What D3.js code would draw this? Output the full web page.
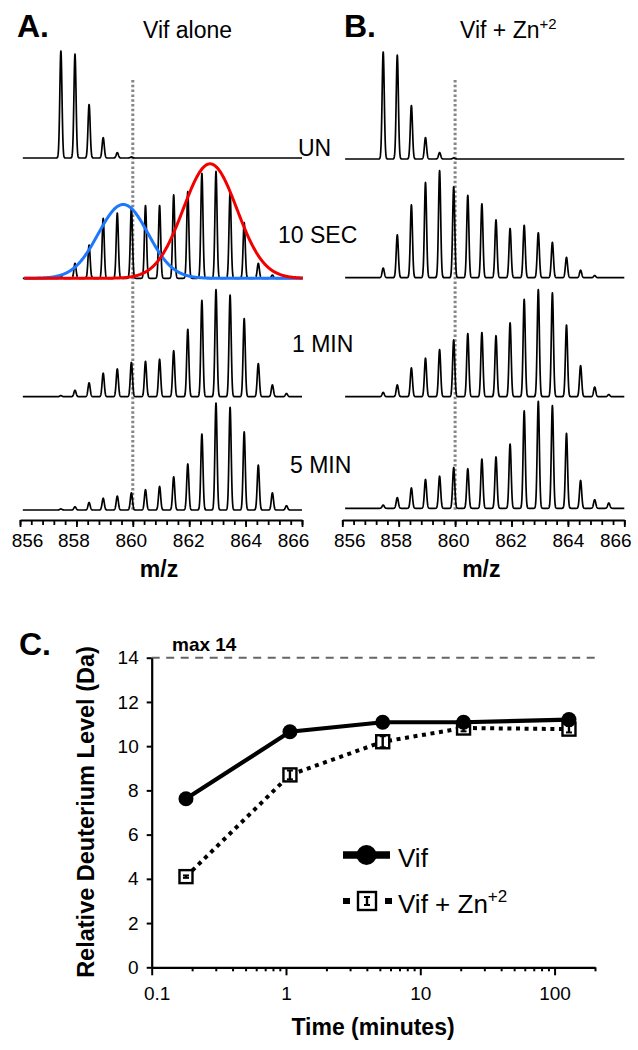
<!DOCTYPE html>
<html><head><meta charset="utf-8">
<script src="https://cdn.jsdelivr.net/npm/d3@7"></script>
<style>
body{margin:0;background:#fff}
svg{display:block}
text{font-family:"Liberation Sans",Arial,Helvetica,sans-serif;fill:#000}
</style>
</head><body>
<svg id="chart" width="638" height="1050"></svg>
<script>
// ---------- DATA ----------
// isotope peak positions (m/z) and relative intensities (% of base peak)
const mzPeaks = [857.45,857.95,858.45,858.95,859.45,859.95,860.45,860.95,861.45,861.95,862.45,862.95,863.45,863.95,864.45,864.95,865.45,865.95];
const vifUN    = [100,97,50,19,5,1,0,0,0,0,0,0,0,0,0,0,0,0];
const vif10s   = [2,14,31,56,61,66,68,68,78,81,98,100,80,52,14,3,0,0];
const vif1m    = [1,6,13,22,26,32,33,35,43,63,90,100,95,73,31,11,3,0];
const vif5m    = [1,3,7,11,13,16,19,22,31,43,71,100,96,73,42,16,4,0];
const znUN     = [100,97,50,20,6,1,0,0,0,0,0,0,0,0,0,0,0,0];
const zn10s    = [9,40,68,89,100,85,77,69,54,46,49,42,33,19,7,2,0,0];
const zn1m     = [4,11,27,36,44,53,59,60,57,69,91,100,97,67,29,9,2,0];
const zn5m     = [3,10,19,27,30,38,37,46,48,60,91,100,96,70,26,8,5,0];
const spectrumLabels = ["UN","10 SEC","1 MIN","5 MIN"];
// bimodal fit for Vif 10 s: [center m/z, height %, width]
const fitBlue = [859.66, 69, 0.88];
const fitRed  = [862.74, 107, 0.95];
const mzTicks = [856,858,860,862,864,866];
const refMz = 860;

// deuterium uptake (panel C)
const timeMin = [0.18, 1.07, 5.25, 21, 128];
const vifD    = [7.62, 10.65, 11.08, 11.08, 11.2];
const znD     = [4.1, 8.7, 10.2, 10.82, 10.77];
const znErr   = [0.05, 0.2, 0.25, 0.15, 0.15];
const yTicksC = [0,2,4,6,8,10,12,14];
const xTicksC = [0.1,1,10,100];
const maxD = 14;

// ---------- DRAW ----------
const svg = d3.select("#chart");

const baselinesA = [158, 278.3, 396.7, 510];
const baselinesB = [159, 277.7, 396.7, 508.3];
const peakPx = 107;
const sig = 0.038;
const grid = d3.range(856.1, 866.0001, 0.005);
const mzLabelShift = [7, -3, -2, -1, 0, -9];

function profile(intens) {
  return grid.map(m => {
    let s = 0;
    for (let k = 0; k < mzPeaks.length; k++) {
      const d = m - mzPeaks[k];
      if (Math.abs(d) < 0.3) s += intens[k] * Math.exp(-d*d/(2*sig*sig));
    }
    return [m, s];
  });
}

function panel(x0, x1, baselines, sets, letter, letterX) {
  const x = d3.scaleLinear().domain([856, 866]).range([x0, x1]);
  const g = svg.append("g");
  g.append("line").attr("x1", x(refMz)).attr("x2", x(refMz))
    .attr("y1", 80).attr("y2", 510)
    .attr("stroke", "#858585").attr("stroke-width", 3).attr("stroke-dasharray", "2.5,2.3");
  sets.forEach((intens, i) => {
    const y = d3.scaleLinear().domain([0, 100]).range([baselines[i], baselines[i] - peakPx]);
    const line = d3.line().x(d => x(d[0])).y(d => y(d[1]));
    g.append("path").datum(profile(intens)).attr("d", line)
      .attr("fill", "none").attr("stroke", "#000").attr("stroke-width", 1.7).attr("stroke-linejoin", "round");
  });
  const minor = d3.range(856, 866.001, 0.4);
  g.append("g").attr("transform", `translate(0,520)`)
    .call(d3.axisBottom(x).tickValues(minor).tickSize(5).tickSizeOuter(0).tickFormat(""))
    .call(a => a.select(".domain").attr("stroke-width", 2.2))
    .call(a => a.selectAll(".tick line").attr("stroke-width", 1.8));
  g.append("g").attr("transform", `translate(0,520)`)
    .call(d3.axisBottom(x).tickValues(mzTicks).tickSize(7).tickSizeOuter(0).tickFormat(d3.format("d")))
    .call(a => a.select(".domain").remove())
    .call(a => a.selectAll(".tick line").attr("stroke-width", 1.8))
    .call(a => a.selectAll(".tick text").attr("y", 14).attr("dx", (d, i) => mzLabelShift[i])
      .attr("font-size", 19).attr("fill", "#000")
      .style("font-family", '"Liberation Sans",Arial,sans-serif'));
  svg.append("text").attr("x", (x0 + x1) / 2 - 2).attr("y", 577).attr("text-anchor", "middle")
    .attr("font-size", 23).attr("font-weight", "bold").text("m/z");
  svg.append("text").attr("x", letterX).attr("y", 37).attr("font-size", 32).attr("font-weight", "bold").text(letter);
  return x;
}

const xA = panel(20, 302, baselinesA, [vifUN, vif10s, vif1m, vif5m], "A.", 17);
const xB = panel(342.3, 624.3, baselinesB, [znUN, zn10s, zn1m, zn5m], "B.", 344);

// Gaussian fits in panel A, 10 SEC
[fitBlue, fitRed].forEach((p, i) => {
  const y = d3.scaleLinear().domain([0, 100]).range([baselinesA[1], baselinesA[1] - peakPx]);
  const pts = d3.range(856.15, 866.05, 0.02).map(m => [m, p[1] * Math.exp(-((m - p[0]) * (m - p[0])) / (2 * p[2] * p[2]))]);
  svg.append("path").datum(pts)
    .attr("d", d3.line().x(d => xA(d[0])).y(d => y(d[1])))
    .attr("fill", "none").attr("stroke", i === 0 ? "#1e78ff" : "#f20000").attr("stroke-width", 3);
});

// titles
svg.append("text").attr("x", 143).attr("y", 38).attr("font-size", 23).text("Vif alone");
const tB = svg.append("text").attr("x", 460).attr("y", 38).attr("font-size", 23);
tB.append("tspan").text("Vif + Zn");
tB.append("tspan").attr("dy", -9).attr("font-size", 15).text("+2");

// spectrum labels
const labPos = [[298, 156], [278, 243], [292, 352], [290, 473]];
spectrumLabels.forEach((t, i) => {
  svg.append("text").attr("x", labPos[i][0]).attr("y", labPos[i][1]).attr("font-size", 23).text(t);
});

// ---------- Panel C ----------
const xC = d3.scaleLog().domain([0.1, 200]).range([151.7, 595]);
const yC = d3.scaleLinear().domain([0, 14]).range([967.3, 657.7]);

svg.append("text").attr("x", 19).attr("y", 655).attr("font-size", 32).attr("font-weight", "bold").text("C.");

svg.append("line").attr("x1", xC(0.1)).attr("x2", 597).attr("y1", yC(maxD)).attr("y2", yC(maxD))
  .attr("stroke", "#666").attr("stroke-width", 2).attr("stroke-dasharray", "8,6.5");
svg.append("text").attr("x", 172).attr("y", 651).attr("font-size", 19).attr("font-weight", "bold").text("max 14");

const minorC = [];
[0.1, 1, 10, 100].forEach(d => { for (let k = 2; k <= 9; k++) if (d * k <= 200) minorC.push(d * k); });
svg.append("g").attr("transform", "translate(0,967.3)")
  .call(d3.axisBottom(xC).tickValues(minorC).tickSize(4).tickSizeOuter(0).tickFormat(""))
  .call(a => a.select(".domain").attr("stroke-width", 2.2))
  .call(a => a.selectAll(".tick line").attr("stroke-width", 2));
svg.append("g").attr("transform", "translate(0,967.3)")
  .call(d3.axisBottom(xC).tickValues(xTicksC).tickSize(8).tickSizeOuter(0).tickFormat(d => d3.format("")(d)))
  .call(a => a.select(".domain").remove())
  .call(a => a.selectAll(".tick line").attr("stroke-width", 2))
  .call(a => a.selectAll(".tick text").attr("y", 19).attr("dx", (d, i) => i === 0 ? 5 : 0)
    .attr("font-size", 19).attr("fill", "#000")
    .style("font-family", '"Liberation Sans",Arial,sans-serif'));
svg.append("g").attr("transform", "translate(151.7,0)")
  .call(d3.axisLeft(yC).tickValues(yTicksC).tickSize(5).tickSizeOuter(0).tickPadding(8))
  .call(a => a.select(".domain").attr("stroke-width", 2.2))
  .call(a => a.selectAll(".tick line").attr("stroke-width", 2))
  .call(a => a.selectAll(".tick text").attr("font-size", 19).attr("fill", "#000")
    .style("font-family", '"Liberation Sans",Arial,sans-serif'));

svg.append("text").attr("x", 373).attr("y", 1035).attr("text-anchor", "middle")
  .attr("font-size", 23).attr("font-weight", "bold").text("Time (minutes)");
svg.append("text").attr("transform", "translate(94,812) rotate(-90)").attr("text-anchor", "middle")
  .attr("font-size", 23.5).attr("font-weight", "bold").text("Relative Deuterium Level (Da)");

const lineC = d3.line().x((d, i) => xC(timeMin[i])).y(d => yC(d));
svg.append("path").datum(znD).attr("d", lineC).attr("fill", "none")
  .attr("stroke", "#000").attr("stroke-width", 4).attr("stroke-dasharray", "4,4.6");
function squareMarker(g, cx, cy, s, errPx) {
  g.append("rect").attr("x", cx - s / 2).attr("y", cy - s / 2).attr("width", s).attr("height", s)
    .attr("fill", "#fff").attr("stroke", "#000").attr("stroke-width", 2.4);
  const e = Math.max(errPx, 1.2);
  g.append("line").attr("x1", cx).attr("x2", cx).attr("y1", cy - e).attr("y2", cy + e).attr("stroke", "#000").attr("stroke-width", 2.4);
  [cy - e, cy + e].forEach(yy => g.append("line").attr("x1", cx - 3).attr("x2", cx + 3).attr("y1", yy).attr("y2", yy)
    .attr("stroke", "#000").attr("stroke-width", 2));
}
znD.forEach((d, i) => squareMarker(svg, xC(timeMin[i]), yC(d), 13, yC(0) - yC(znErr[i])));

svg.append("path").datum(vifD).attr("d", lineC).attr("fill", "none")
  .attr("stroke", "#000").attr("stroke-width", 4.2);
svg.selectAll("circle.vif").data(vifD).enter().append("circle").attr("class", "vif")
  .attr("cx", (d, i) => xC(timeMin[i])).attr("cy", d => yC(d)).attr("r", 7.5).attr("fill", "#000");

// legend
svg.append("line").attr("x1", 343).attr("x2", 390).attr("y1", 855).attr("y2", 855)
  .attr("stroke", "#000").attr("stroke-width", 7.5);
svg.append("circle").attr("cx", 366.5).attr("cy", 855).attr("r", 10).attr("fill", "#000");
svg.append("text").attr("x", 398).attr("y", 867).attr("font-size", 26).text("Vif");

svg.append("line").attr("x1", 343).attr("x2", 392).attr("y1", 901).attr("y2", 901)
  .attr("stroke", "#000").attr("stroke-width", 6).attr("stroke-dasharray", "7,35");
squareMarker(svg, 367, 901, 18, 4);
const tZ = svg.append("text").attr("x", 398).attr("y", 913).attr("font-size", 26);
tZ.append("tspan").text("Vif + Zn");
tZ.append("tspan").attr("dy", -11).attr("font-size", 17).text("+2");
</script>
</body></html>
